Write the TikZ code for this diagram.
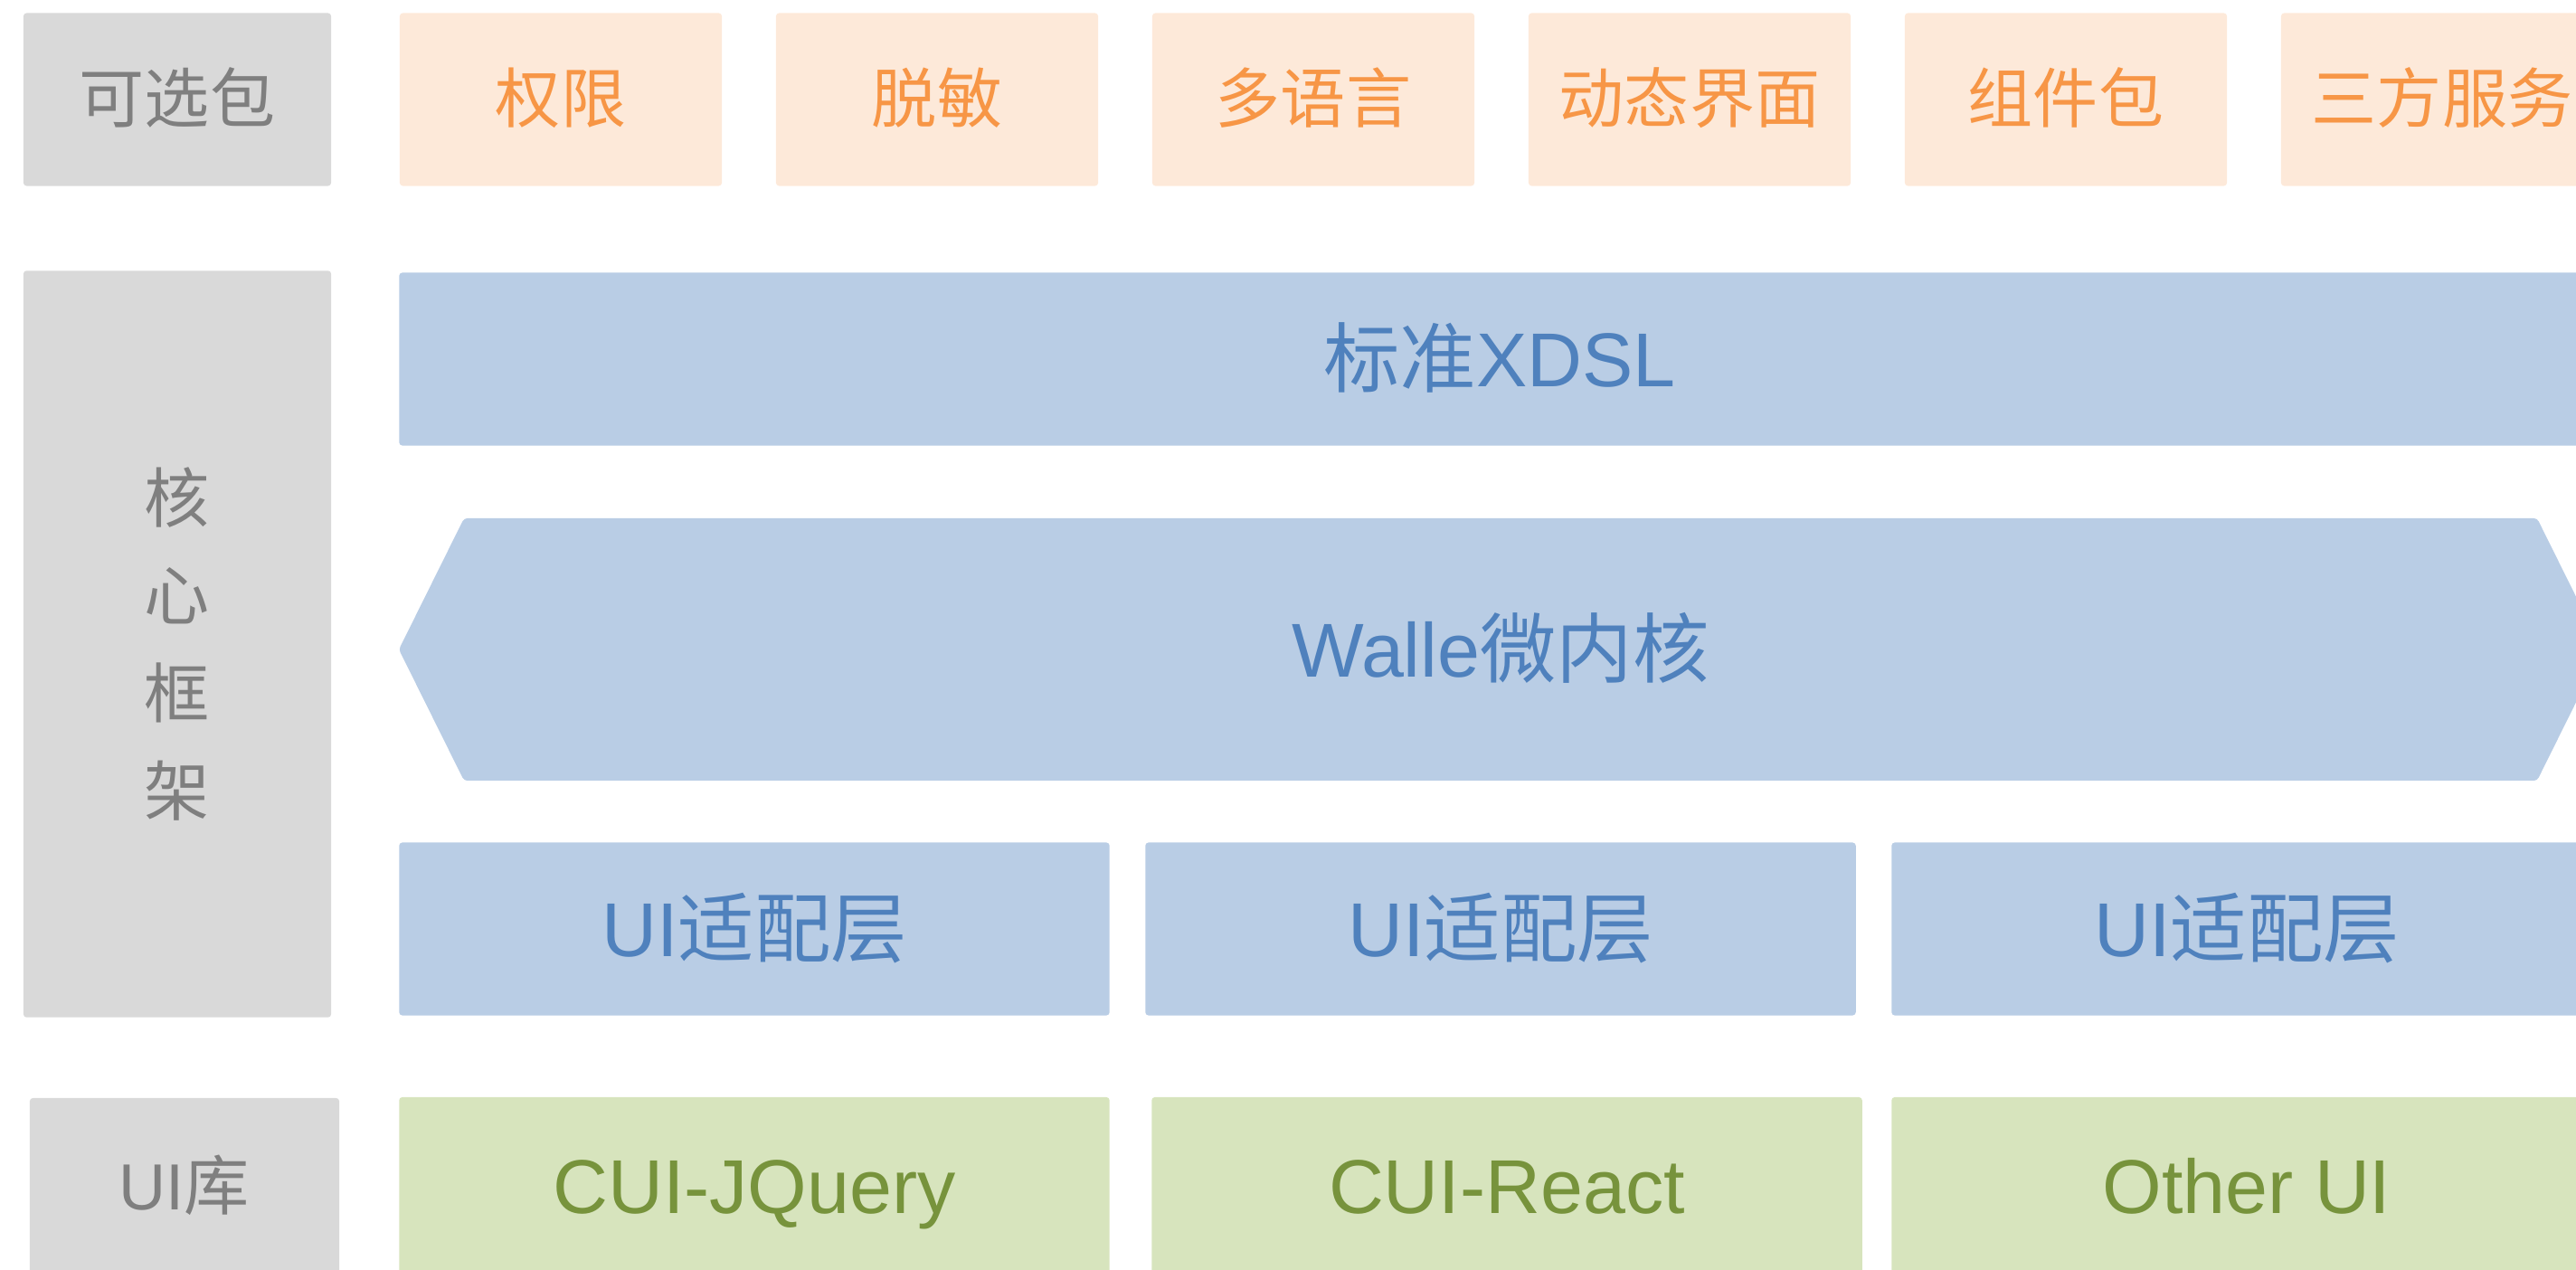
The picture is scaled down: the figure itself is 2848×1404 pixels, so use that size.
\documentclass[tikz,border=0pt]{standalone}
\usepackage{fontspec}
\setmainfont{Liberation Sans}
\newfontfamily\cjk{Noto Sans CJK SC}
\definecolor{grayfill}{HTML}{D9D9D9}
\definecolor{graytext}{HTML}{7F7F7F}
\definecolor{orangefill}{HTML}{FDE9D9}
\definecolor{orangetext}{HTML}{F79646}
\definecolor{bluefill}{HTML}{B9CDE5}
\definecolor{bluetext}{HTML}{4F81BD}
\definecolor{greenfill}{HTML}{D7E4BD}
\definecolor{greentext}{HTML}{77933C}

\begin{document}
\begin{tikzpicture}[x=0.01cm, y=-0.01cm,
        box/.style={rounded corners=1pt, inner sep=0pt},
        smallfont/.style={font=\fontsize{20.5}{24}\selectfont, text height=17.4pt, text depth=2.7pt},
        bigfont/.style={font=\fontsize{24}{28}\selectfont, text height=20.4pt, text depth=3.1pt},
        graybox/.style={box, smallfont, fill=grayfill, text=graytext},
        pkgbox/.style={box, smallfont, fill=orangefill, text=orangetext, minimum width=3.56cm, minimum height=1.91cm},
        corebox/.style={box, bigfont, fill=bluefill, text=bluetext, minimum height=1.91cm},
        libbox/.style={box, bigfont, fill=greenfill, text=greentext, minimum width=7.85cm, minimum height=1.96cm}]
            \useasboundingbox (0,0) rectangle (2848,1404);
            \clip (0,0) rectangle (2848,1404);
            \node[graybox, minimum width=3.40cm, minimum height=1.91cm] (optional) at (196,110) {\cjk 可选包};
            \foreach \name/\txt [count=\i from 0] in {perm/权限, mask/脱敏, lang/多语言, dynui/动态界面, comp/组件包, third/三方服务}
                    \node[pkgbox] (\name) at (620+416*\i,110) {\cjk \txt};
            \node[graybox, minimum width=3.40cm, minimum height=8.25cm, text height=, text depth=, align=center,
                  font=\fontsize{20.5}{30.7}\selectfont\cjk] (core) at (196,712) {核\\心\\框\\架};
            \node[corebox, minimum width=24.32cm] (xdsl) at (1658,397) {{\cjk 标准}XDSL};
            \fill[bluefill, rounded corners=1pt] (441,718) coordinate (hexw) -- (513,573) -- (2805,573)
                  -- (2877,718) coordinate (hexe) -- (2805,863) -- (513,863) -- cycle;
            \node[box, bigfont, text=bluetext] (walle) at (1659,718) {Walle{\cjk 微内核}};
            \foreach \x [count=\i] in {834,1659,2484}
                    \node[corebox, minimum width=7.85cm] (adapter\i) at (\x,1027) {UI{\cjk 适配层}};
            \node[graybox, minimum width=3.42cm, minimum height=1.96cm] (uilib) at (204,1312) {UI{\cjk 库}};
            \foreach \name/\x/\txt in {jquery/834/CUI-JQuery, react/1666/CUI-React, other/2484/Other UI}
                    \node[libbox] (\name) at (\x,1311) {\txt};
      \end{tikzpicture}
\end{document}
